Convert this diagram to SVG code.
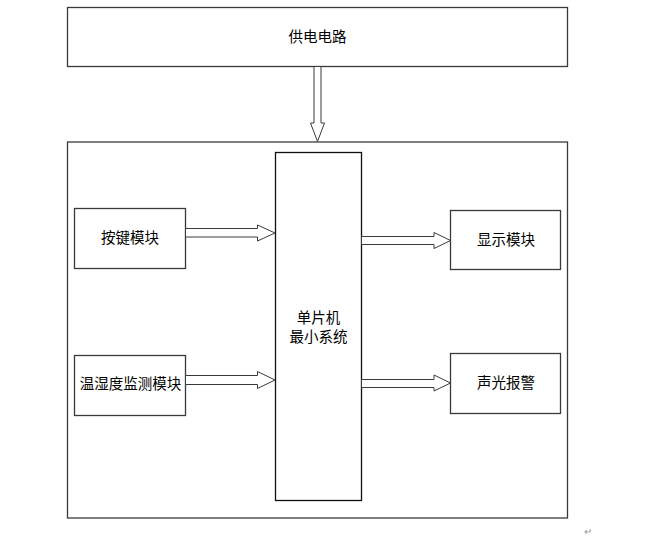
<svg xmlns="http://www.w3.org/2000/svg" width="647" height="540" viewBox="0 0 647 540">
<style>
.box{fill:#fff;stroke:#3a3a3a;stroke-width:1.3}
.arr{fill:#fff;stroke:#3a3a3a;stroke-width:1}
.t{font-family:"Liberation Sans","Noto Sans CJK SC",sans-serif;font-size:14.5px;fill:#000;text-anchor:middle;dominant-baseline:central}
</style>
<rect width="647" height="540" fill="#fff"/>
<g id="outer"><rect class="box" x="67.5" y="142" width="500" height="376"/></g>
<g id="power"><rect class="box" x="67.5" y="7.5" width="500" height="59"/><text class="t" x="317.5" y="37">供电电路</text></g>
<g id="mcu"><rect class="box" x="275.5" y="152.5" width="86" height="348" style="stroke:#111"/><text class="t" x="318.5" y="318">单片机</text><text class="t" x="318.5" y="337">最小系统</text></g>
<g id="keys"><rect class="box" x="74.5" y="208.5" width="111" height="60"/><text class="t" x="130" y="238">按键模块</text></g>
<g id="sensor"><rect class="box" x="74.5" y="355.5" width="111" height="60"/><text class="t" x="130.5" y="384">温湿度监测模块</text></g>
<g id="display"><rect class="box" x="450.5" y="210.5" width="110" height="59"/><text class="t" x="506" y="240">显示模块</text></g>
<g id="alarm"><rect class="box" x="450.5" y="353.5" width="110" height="60"/><text class="t" x="506" y="383">声光报警</text></g>
<g id="connectors">
<path class="arr" d="M314,66.5 V123 H310.5 L317.5,141.5 L324.5,123 H321 V66.5 Z"/>
<path class="arr" d="M185.5,228.5 H257.5 V225 L275,233 L257.5,241 V237 H185.5 Z"/>
<path class="arr" d="M185.5,375.5 H257.5 V371.5 L275,380 L257.5,388.5 V384.5 H185.5 Z"/>
<path class="arr" d="M361.5,236.5 H434 V232.5 L450.5,240.5 L434,248.5 V244.5 H361.5 Z"/>
<path class="arr" d="M361.5,379.5 H434 V375 L450.5,383 L434,391 V387.5 H361.5 Z"/>
</g>
<text x="584" y="535" font-family="'Liberation Sans',sans-serif" font-size="10" fill="#999">↵</text>
</svg>
